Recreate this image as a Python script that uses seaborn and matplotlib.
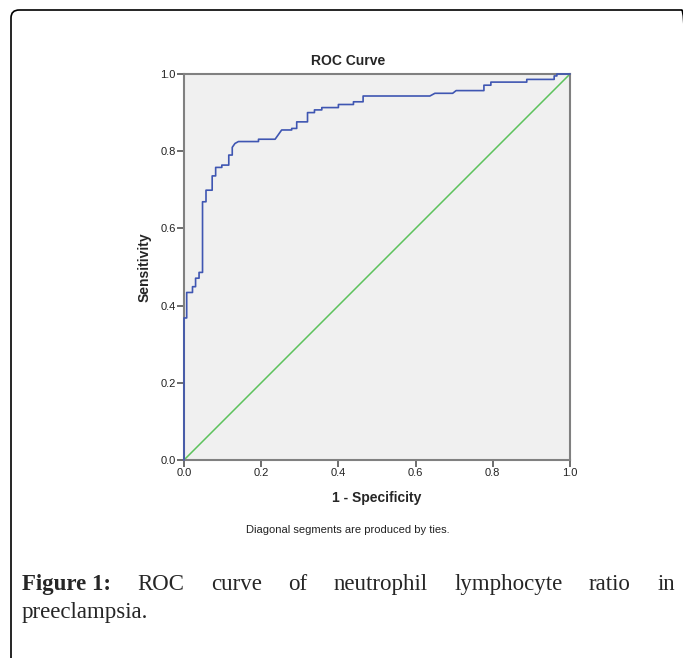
import matplotlib
matplotlib.use("Agg")
import matplotlib.pyplot as plt
import seaborn as sns
import pandas as pd
from matplotlib.patches import FancyBboxPatch

# ROC curve vertices (step corners)
fpr = [0.000, 0.000, 0.007, 0.007, 0.022, 0.022, 0.030, 0.030, 0.039, 0.039,
       0.048, 0.048, 0.057, 0.057, 0.073, 0.073, 0.082, 0.082, 0.098, 0.098,
       0.116, 0.116, 0.125, 0.125, 0.132, 0.141, 0.193, 0.193, 0.236, 0.253,
       0.279, 0.279, 0.292, 0.292, 0.320, 0.320, 0.338, 0.338, 0.357, 0.357,
       0.400, 0.400, 0.439, 0.439, 0.464, 0.464, 0.637, 0.650, 0.696, 0.705,
       0.777, 0.777, 0.795, 0.795, 0.888, 0.888, 0.959, 0.959, 0.966, 0.966,
       1.000]
tpr = [0.000, 0.368, 0.368, 0.434, 0.434, 0.449, 0.449, 0.471, 0.471, 0.486,
       0.486, 0.669, 0.669, 0.699, 0.699, 0.736, 0.736, 0.758, 0.758, 0.764,
       0.764, 0.790, 0.790, 0.810, 0.820, 0.825, 0.825, 0.831, 0.831, 0.855,
       0.855, 0.859, 0.859, 0.876, 0.876, 0.900, 0.900, 0.907, 0.907, 0.913,
       0.913, 0.921, 0.921, 0.928, 0.928, 0.943, 0.943, 0.950, 0.950, 0.957,
       0.957, 0.971, 0.971, 0.979, 0.979, 0.986, 0.986, 0.995, 0.995, 1.000,
       1.000]
ref_line = [0.0, 1.0]
ticks = [0.0, 0.2, 0.4, 0.6, 0.8, 1.0]
tick_labels = ["0.0", "0.2", "0.4", "0.6", "0.8", "1.0"]
caption_line1 = ["Figure 1:", "ROC", "curve", "of", "neutrophil",
                 "lymphocyte", "ratio", "in"]
caption_line2 = "preeclampsia."

sns.set_theme(style="white")
plt.rcParams["font.family"] = ["Liberation Sans", "DejaVu Sans"]

W, H = 683, 658
fig = plt.figure(figsize=(W / 100, H / 100), dpi=100)


def fx(px):
    return px / W


def fy(py):
    return 1 - py / H


# rounded frame, open to the right/bottom (cut by the image edge)
frame = FancyBboxPatch((fx(11), fy(700)), fx(690) - fx(11), fy(10) - fy(700),
                       boxstyle="round,pad=0,rounding_size=0.012",
                       transform=fig.transFigure, fill=False,
                       edgecolor="black", linewidth=1.2)
fig.patches.append(frame)

ax = fig.add_axes([fx(184), fy(460), (570 - 184) / W, (460 - 74) / H])
ax.set_facecolor("#f0f0f0")

roc = pd.DataFrame({"fpr": fpr, "tpr": tpr})
diag = pd.DataFrame({"x": ref_line, "y": ref_line})
sns.lineplot(data=diag, x="x", y="y", ax=ax, color="#5cc25c", linewidth=1.1,
             sort=False, estimator=None)
sns.lineplot(data=roc, x="fpr", y="tpr", ax=ax, color="#3f56b2", linewidth=1.2,
             sort=False, estimator=None, clip_on=False, zorder=3)

ax.set_xlim(0, 1)
ax.set_ylim(0, 1)
ax.set_xticks(ticks)
ax.set_xticklabels(tick_labels)
ax.set_yticks(ticks)
ax.set_yticklabels(tick_labels)
ax.tick_params(axis="both", direction="out", length=5, width=1.2,
               color="#555555", labelsize=8, labelcolor="#222222", pad=1,
               bottom=True, left=True)
for s in ax.spines.values():
    s.set_color("#808080")
    s.set_linewidth(1.5)
ax.set_xlabel("")
ax.set_ylabel("")

fig.text(fx(348), fy(61), "ROC Curve", ha="center", va="center",
         fontsize=10, fontweight="bold")
fig.text(fx(377), fy(498), "1 - Specificity", ha="center", va="center",
         fontsize=10, fontweight="bold")
fig.text(fx(145), fy(267), "Sensitivity", ha="center", va="center",
         rotation=90, fontsize=10, fontweight="bold")
fig.text(fx(348), fy(530), "Diagonal segments are produced by ties.",
         ha="center", va="center", fontsize=8, color="#222222")

# justified caption, first line spread from x=22 to x=675
serif = ["Liberation Serif", "DejaVu Serif"]
words = []
for i, w in enumerate(caption_line1):
    t = fig.text(0, fy(590), w, ha="left", va="baseline", fontsize=16.5,
                 family=serif, fontweight="bold" if i == 0 else "normal")
    words.append(t)
fig.canvas.draw()
r = fig.canvas.get_renderer()
widths = [t.get_window_extent(r).width for t in words]
gap = (675 - 22 - sum(widths)) / (len(words) - 1)
x = 22
for t, w in zip(words, widths):
    t.set_x(fx(x))
    x += w + gap
fig.text(fx(22), fy(618), caption_line2, ha="left", va="baseline",
         fontsize=16.5, family=serif)

fig.savefig("out.png", dpi=100)
